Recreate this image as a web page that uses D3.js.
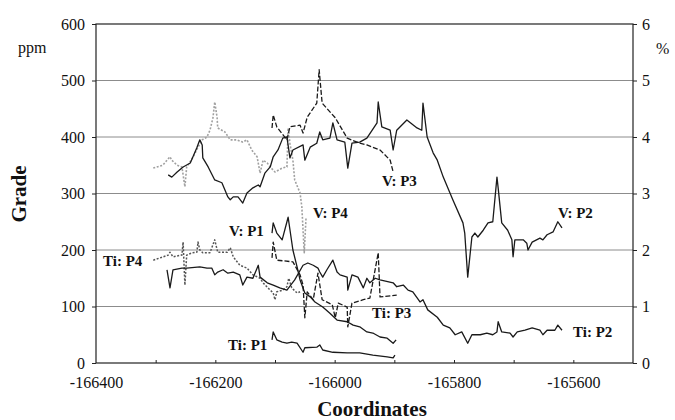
<!DOCTYPE html>
<html>
<head>
<meta charset="utf-8">
<script src="https://cdn.jsdelivr.net/npm/d3@7"></script>
<style>
  body { margin: 0; background: #fff; }
  svg { display: block; }
  text { font-family: "Liberation Serif", "Times New Roman", serif; fill: #111; }
</style>
</head>
<body>
<svg id="chart" width="675" height="420"></svg>
<script>
// axis ticks
const xTicks = [-166400, -166200, -166000, -165800, -165600];
const ppmTicks = [0, 100, 200, 300, 400, 500, 600];
const pctTicks = [0, 1, 2, 3, 4, 5, 6];

// V: P1 (ppm)
const vP1x = [-166105,-166103,-166097,-166088,-166078,-166070,-166063,-166058,-166050,-166041,-166033,-166020,-166008,-165996,-165979,-165969,-165958,-165946,-165936,-165924,-165912,-165902,-165897];
const vP1y = [230,248,230,218,258,200,170,147,124,117,108,99,88,76,73,67,64,55,53,46,44,35,41];

// Ti: P1 (%)
const tiP1x = [-166105,-166103,-166097,-166088,-166080,-166072,-166063,-166053,-166050,-166030,-166025,-166020,-166003,-165979,-165958,-165936,-165912,-165902,-165899];
const tiP1y = [0.41,0.55,0.41,0.37,0.35,0.37,0.35,0.19,0.27,0.28,0.32,0.23,0.19,0.18,0.18,0.14,0.11,0.09,0.14];

// V: P2 (ppm)
const vP2x = [-166279,-166273,-166264,-166254,-166242,-166231,-166226,-166222,-166221,-166212,-166201,-166189,-166179,-166175,-166170,-166162,-166154,-166147,-166137,-166128,-166125,-166117,-166108,-166103,-166095,-166087,
  -166080,-166075,-166070,-166053,-166050,-166041,-166030,-166025,-166020,-166008,-166003,-165996,-165983,-165978,-165971,-165958,-165946,-165929,-165927,-165921,-165907,-165902,-165896,-165879,-165862,-165854,-165852,-165845,-165835,-165828,-165818,-165802,-165785,-165782,-165777,-165770,-165765,-165760,-165751,-165743,-165735,-165728,-165726,-165720,-165710,-165703,-165701,-165698,-165684,-165678,-165676,-165669,-165656,-165651,-165644,-165634,-165626,-165619];
const vP2y = [333,329,338,347,354,381,395,386,363,347,324,319,294,289,294,294,283,301,310,315,312,336,347,365,377,398,
  400,363,377,386,359,382,389,409,395,398,425,395,391,345,389,391,398,425,462,418,412,377,412,430,416,412,460,400,372,359,329,289,248,230,152,223,230,223,235,248,250,329,310,248,235,218,188,218,218,212,200,214,221,218,227,232,250,239];

// Ti: P2 (%)
const tiP2x = [-166281,-166276,-166271,-166256,-166248,-166226,-166214,-166206,-166201,-166196,-166187,-166179,-166170,-166159,-166154,-166147,-166137,-166128,-166125,-166113,-166103,-166092,-166080,-166067,-166053,-166045,-166036,-166028,-166025,-166020,-166013,-166003,-165996,-165991,-165979,-165978,-165971,-165961,-165952,-165946,-165941,-165932,-165924,-165902,-165896,-165885,-165877,-165869,-165857,-165852,-165844,-165828,-165818,-165807,-165798,-165787,-165777,-165770,-165756,-165745,-165735,-165728,-165726,-165720,-165706,-165701,-165694,-165681,-165669,-165656,-165651,-165644,-165631,-165626,-165619];
const tiP2y = [1.65,1.33,1.65,1.68,1.68,1.70,1.68,1.68,1.56,1.61,1.65,1.59,1.61,1.56,1.38,1.52,1.50,1.73,1.52,1.42,1.38,1.33,1.29,1.47,1.73,1.77,1.73,1.68,1.61,1.52,1.65,1.82,1.61,1.56,1.52,1.29,1.56,1.52,1.33,1.50,1.42,1.50,1.47,1.42,1.35,1.38,1.29,1.26,1.08,1.12,0.94,0.81,0.67,0.62,0.50,0.55,0.35,0.50,0.50,0.53,0.50,0.55,0.73,0.55,0.53,0.46,0.55,0.58,0.62,0.58,0.50,0.58,0.58,0.67,0.58];

// V: P3 (ppm)
const vP3x = [-166105,-166103,-166097,-166080,-166075,-166058,-166053,-166046,-166030,-166026,-166021,-165999,-165979,-165958,-165946,-165924,-165907,-165902];
const vP3y = [416,439,418,395,418,421,407,435,460,519,460,434,398,389,386,377,359,338];

// Ti: P3 (%)
const tiP3x = [-166105,-166103,-166097,-166070,-166058,-166053,-166050,-166046,-166036,-166028,-166021,-166004,-165999,-165994,-165979,-165978,-165971,-165952,-165941,-165927,-165924,-165896];
const tiP3y = [1.86,2.14,1.82,1.79,1.56,1.38,0.80,1.26,1.12,1.59,1.12,1.03,0.80,1.06,0.99,0.64,1.06,1.12,1.15,1.95,1.17,1.20];

// V: P4 (ppm)
const vP4x = [-166304,-166298,-166288,-166276,-166273,-166264,-166256,-166251,-166248,-166237,-166229,-166222,-166214,-166209,-166204,-166201,-166197,-166196,-166184,-166175,-166164,-166154,-166147,-166139,-166130,-166125,-166120,-166113,-166108,-166100,-166088,-166080,-166078,-166075,-166070,-166067,-166058,-166055,-166051,-166048];
const vP4y = [345,347,350,365,359,350,347,312,347,365,382,395,400,412,434,462,434,416,409,395,395,391,395,377,365,336,359,354,347,338,345,347,416,389,359,324,301,276,195,257];

// Ti: P4 (%)
const tiP4x = [-166304,-166279,-166276,-166271,-166256,-166254,-166251,-166248,-166239,-166231,-166229,-166226,-166221,-166209,-166201,-166196,-166180,-166175,-166170,-166159,-166147,-166137,-166125,-166120,-166112,-166103,-166100,-166097,-166087,-166080,-166077,-166072,-166063,-166058];
const tiP4y = [1.82,1.91,1.96,1.88,1.91,2.14,1.38,1.91,1.95,1.96,2.14,2.00,1.95,1.95,2.18,1.96,1.96,2.04,1.88,1.73,1.68,1.56,1.50,1.42,1.33,1.24,1.12,1.26,1.29,1.35,1.50,1.33,1.24,1.26];

const margin = { left: 96, right: 633, top: 24, bottom: 363 };
const serif = '"Liberation Serif", "Times New Roman", serif';

const svg = d3.select("#chart");

const x = d3.scaleLinear().domain([-166400, -165500]).range([margin.left, margin.right]);
const yPpm = d3.scaleLinear().domain([0, 600]).range([margin.bottom, margin.top]);
const yPct = d3.scaleLinear().domain([0, 6]).range([margin.bottom, margin.top]);

// gridlines
svg.append("g")
    .selectAll("line")
    .data(ppmTicks.slice(1, -1))
    .enter()
    .append("line")
    .attr("x1", margin.left)
    .attr("x2", margin.right)
    .attr("y1", (d) => yPpm(d))
    .attr("y2", (d) => yPpm(d))
    .attr("stroke", "#8c8c8c")
    .attr("stroke-width", 1);

// frame
svg.append("rect")
    .attr("x", margin.left)
    .attr("y", margin.top)
    .attr("width", margin.right - margin.left)
    .attr("height", margin.bottom - margin.top)
    .attr("fill", "none")
    .attr("stroke", "#222")
    .attr("stroke-width", 1.2);

function styleAxis(g) {
    g.attr("font-family", serif).attr("font-size", 16);
    g.select(".domain").remove();
    g.selectAll(".tick line").attr("stroke", "#222");
    g.selectAll("text").style("font-family", serif).style("font-size", "16px").attr("fill", "#111");
}

const plain = (d) => String(d);

// left axis
svg.append("g")
    .attr("transform", `translate(${margin.left},0)`)
    .call(d3.axisLeft(yPpm).tickValues(ppmTicks).tickSize(4).tickPadding(7).tickFormat(plain))
    .call(styleAxis);

// right axis
svg.append("g")
    .attr("transform", `translate(${margin.right},0)`)
    .call(d3.axisRight(yPct).tickValues(pctTicks).tickSize(4).tickPadding(5).tickFormat(plain))
    .call(styleAxis);

// bottom axis, minor ticks then labelled ticks
svg.append("g")
    .attr("transform", `translate(0,${margin.bottom})`)
    .call(d3.axisBottom(x).tickValues(d3.range(-166300, -165500, 100)).tickSize(-3).tickFormat(""))
    .call(styleAxis);

svg.append("g")
    .attr("transform", `translate(0,${margin.bottom})`)
    .call(d3.axisBottom(x).tickValues(xTicks).tickSize(0).tickPadding(14).tickFormat(plain))
    .call(styleAxis);

// units and titles
svg.append("text").attr("x", 18).attr("y", 53).style("font-size", "16px").text("ppm");
svg.append("text").attr("x", 656).attr("y", 54).style("font-size", "16px").text("%");

svg.append("text")
    .attr("transform", "translate(26,194) rotate(-90)")
    .attr("text-anchor", "middle")
    .style("font-size", "21px")
    .style("font-weight", "bold")
    .text("Grade");

svg.append("text")
    .attr("x", 372)
    .attr("y", 416)
    .attr("text-anchor", "middle")
    .style("font-size", "21px")
    .style("font-weight", "bold")
    .text("Coordinates");

// series
let series = [
    { xs: vP4x, ys: vP4y, y: yPpm, color: "#a0a0a0", dash: "2,1.6", width: 1.6 },
    { xs: tiP4x, ys: tiP4y, y: yPct, color: "#555", dash: "2,1.6", width: 1.5 },
    { xs: vP2x, ys: vP2y, y: yPpm, color: "#1a1a1a", dash: null, width: 1.3 },
    { xs: tiP2x, ys: tiP2y, y: yPct, color: "#1a1a1a", dash: null, width: 1.3 },
    { xs: vP1x, ys: vP1y, y: yPpm, color: "#1a1a1a", dash: null, width: 1.3 },
    { xs: tiP1x, ys: tiP1y, y: yPct, color: "#1a1a1a", dash: null, width: 1.3 },
    { xs: vP3x, ys: vP3y, y: yPpm, color: "#1a1a1a", dash: "5,2", width: 1.3 },
    { xs: tiP3x, ys: tiP3y, y: yPct, color: "#1a1a1a", dash: "5,2", width: 1.3 },
];

series.forEach((s) => {
    let line = d3.line().x((d) => x(d[0])).y((d) => s.y(d[1]));
    svg.append("path")
        .datum(d3.zip(s.xs, s.ys))
        .attr("d", line)
        .attr("fill", "none")
        .attr("stroke", s.color)
        .attr("stroke-width", s.width)
        .attr("stroke-dasharray", s.dash)
        .attr("stroke-linejoin", "round");
});

// series labels
let labels = [
    { text: "Ti: P4", x: 103, y: 266 },
    { text: "V: P1", x: 229, y: 236 },
    { text: "V: P4", x: 313, y: 218 },
    { text: "V: P3", x: 382, y: 186 },
    { text: "Ti: P3", x: 372, y: 318 },
    { text: "V: P2", x: 558, y: 218 },
    { text: "Ti: P2", x: 573, y: 337 },
    { text: "Ti: P1", x: 228, y: 350 },
];

svg.append("g")
    .selectAll("text")
    .data(labels)
    .enter()
    .append("text")
    .attr("x", (d) => d.x)
    .attr("y", (d) => d.y)
    .style("font-size", "15px")
    .style("font-weight", "bold")
    .text((d) => d.text);
</script>
</body>
</html>
